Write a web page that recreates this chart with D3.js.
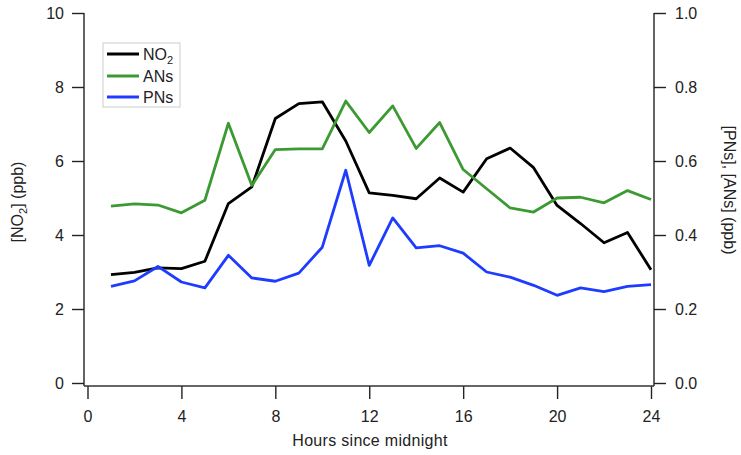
<!DOCTYPE html>
<html>
<head>
<meta charset="utf-8">
<script src="https://d3js.org/d3.v7.min.js"></script>
<style>
  body { margin: 0; background: #fff; }
  text { font-family: "Liberation Sans", Arial, sans-serif; fill: #222; }
</style>
</head>
<body>
<script>
var w = 741, h = 455;

// hours 1..24
var hours = [1,2,3,4,5,6,7,8,9,10,11,12,13,14,15,16,17,18,19,20,21,22,23,24];
var no2 = [2.93,2.99,3.11,3.09,3.29,4.85,5.30,7.15,7.55,7.60,6.54,5.14,5.07,4.98,5.54,5.16,6.06,6.35,5.82,4.80,4.31,3.79,4.07,3.06];
var ans = [0.478,0.484,0.481,0.460,0.494,0.702,0.534,0.631,0.633,0.633,0.762,0.677,0.749,0.634,0.704,0.577,0.525,0.473,0.462,0.500,0.502,0.487,0.520,0.496];
var pns = [0.261,0.276,0.315,0.273,0.257,0.345,0.284,0.275,0.297,0.367,0.575,0.318,0.446,0.365,0.371,0.351,0.300,0.286,0.264,0.237,0.257,0.247,0.261,0.266];
var xTicks = [0,4,8,12,16,20,24];
var yLeftTicks = [0,2,4,6,8,10];
var yRightTicks = [0,0.2,0.4,0.6,0.8,1.0];

var svg = d3.select("body").append("svg").attr("width", w).attr("height", h);

var x = d3.scaleLinear().domain([0, 24]).range([87.5, 651]);
var yL = d3.scaleLinear().domain([0, 10]).range([383, 13]);
var yR = d3.scaleLinear().domain([0, 1]).range([383, 13]);

var axisLeftX = 84, axisRightX = 654, axisBottomY = 386;

// left axis
var gl = svg.append("g").attr("transform", "translate(" + axisLeftX + ",0)")
    .call(d3.axisLeft(yL).tickValues(yLeftTicks).tickFormat(d3.format("d")).tickSize(12).tickPadding(8));
gl.select(".domain").remove();
svg.append("line").attr("x1", axisLeftX).attr("x2", axisLeftX).attr("y1", yL(10)).attr("y2", axisBottomY)
    .attr("stroke", "#222").attr("stroke-width", 1.4);

// right axis
var gr = svg.append("g").attr("transform", "translate(" + axisRightX + ",0)")
    .call(d3.axisRight(yR).tickValues(yRightTicks).tickFormat(d3.format(".1f")).tickSize(12).tickPadding(9));
gr.select(".domain").remove();
svg.append("line").attr("x1", axisRightX).attr("x2", axisRightX).attr("y1", yR(1)).attr("y2", axisBottomY)
    .attr("stroke", "#222").attr("stroke-width", 1.4);

// bottom axis
var gb = svg.append("g").attr("transform", "translate(0," + axisBottomY + ")")
    .call(d3.axisBottom(x).tickValues(xTicks).tickSize(13).tickPadding(12));
gb.select(".domain").remove();
svg.append("line").attr("x1", axisLeftX).attr("x2", axisRightX).attr("y1", axisBottomY).attr("y2", axisBottomY)
    .attr("stroke", "#333").attr("stroke-width", 1.6);

svg.selectAll(".tick line").attr("stroke", "#222").attr("stroke-width", 1.4);
svg.selectAll(".tick text").attr("font-size", 16).attr("fill", "#222");

// axis titles
svg.append("text").attr("x", 370).attr("y", 446).attr("text-anchor", "middle")
    .attr("font-size", 16).attr("letter-spacing", 0.3).text("Hours since midnight");

var tl = svg.append("text").attr("transform", "translate(23,202) rotate(-90)")
    .attr("text-anchor", "middle").attr("font-size", 16);
tl.append("tspan").text("[NO");
tl.append("tspan").attr("font-size", 11).attr("dy", 4).text("2");
tl.append("tspan").attr("dy", -4).text("] (ppb)");

svg.append("text").attr("transform", "translate(724,190) rotate(90)")
    .attr("text-anchor", "middle").attr("font-size", 16)
    .text("[PNs], [ANs] (ppb)");

// series
var series = [
    { name: "NO2", values: no2, y: yL, color: "#000000" },
    { name: "ANs", values: ans, y: yR, color: "#3c9a32" },
    { name: "PNs", values: pns, y: yR, color: "#1e3cff" }
];

series.forEach(function (s) {
    var line = d3.line()
        .x(function (d, i) { return x(hours[i]); })
        .y(function (d) { return s.y(d); });
    svg.append("path").datum(s.values)
        .attr("d", line)
        .attr("fill", "none")
        .attr("stroke", s.color)
        .attr("stroke-width", 2.8)
        .attr("stroke-linejoin", "round");
});

// legend
var lg = svg.append("g");
lg.append("rect").attr("x", 103).attr("y", 43).attr("width", 77).attr("height", 64)
    .attr("fill", "#fff").attr("stroke", "#ccc").attr("stroke-width", 1);
var legY = [54, 76, 97];
series.forEach(function (s, i) {
    lg.append("line").attr("x1", 107).attr("x2", 139).attr("y1", legY[i]).attr("y2", legY[i])
        .attr("stroke", s.color).attr("stroke-width", 3);
    var t = lg.append("text").attr("x", 143).attr("y", legY[i] + 6).attr("font-size", 16);
    if (s.name === "NO2") {
        t.append("tspan").text("NO");
        t.append("tspan").attr("font-size", 11).attr("dy", 4).text("2");
    } else {
        t.text(s.name);
    }
});
</script>
</body>
</html>
